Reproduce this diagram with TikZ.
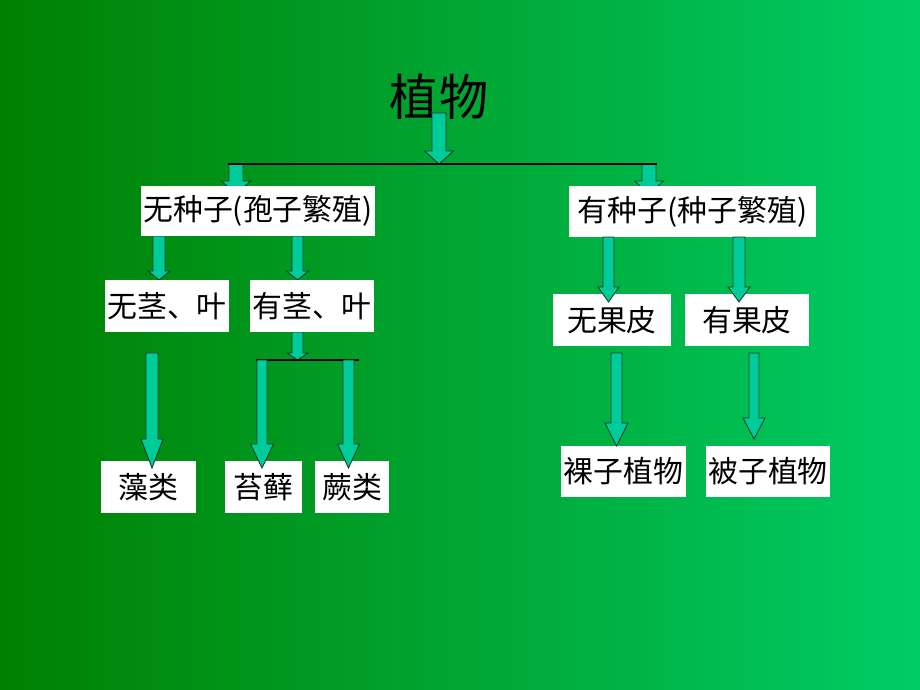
\documentclass[tikz,border=0pt]{standalone}
\usepackage{fontspec}
\setmainfont{Noto Sans CJK SC}
\usetikzlibrary{calc}
\definecolor{bgleft}{RGB}{0,128,0}
\definecolor{bgright}{RGB}{0,204,102}
\definecolor{arrowfill}{RGB}{0,204,153}
\definecolor{arrowline}{RGB}{20,60,40}
\tikzset
{
    plantbox/.style  = {rectangle, fill=white, align=center, inner sep=0pt, font=\fontsize{17}{20}\selectfont},
    boxsize/.style 2 args = {minimum width=#1*0.02cm, minimum height=#2*0.02cm},
    titlenode/.style = {inner sep=0pt, font=\fontsize{28}{32}\selectfont},
    blockarrow/.style = {fill=arrowfill, draw=arrowline, line width=0.5pt, line join=miter},
    busline/.style   = {draw=black, line width=0.6pt}
}
% block arrow: x, top, tip, half shaft, half head, head length
\newcommand{\barrow}[6]{%
    \draw[blockarrow] (#1-#4,#2) -- (#1-#4,#3-#6) -- (#1-#5,#3-#6) -- (#1,#3)
        -- (#1+#5,#3-#6) -- (#1+#4,#3-#6) -- (#1+#4,#2) -- cycle;
}
\begin{document}
\begin{tikzpicture}[x=0.02cm, y=-0.02cm]
    \useasboundingbox (0,0) rectangle (920,690);
    \shade[left color=bgleft, right color=bgright] (0,0) rectangle (920,690);

    \node [titlenode] (plant) at (439,97) {植物};

    % arrows that run under the boxes
    \barrow{439}{113}{164}{7}{14.5}{13}
    \barrow{236}{164}{194}{7}{14.5}{13}
    \barrow{649}{164}{194}{7}{14.5}{13}
    \barrow{159}{236}{280}{6}{11}{9}
    \barrow{297.5}{236}{280}{5.5}{11}{9}
    \barrow{297.5}{332}{360}{5.5}{10.5}{7}

    \coordinate (bus1w) at (228,164);
    \coordinate (bus1e) at (657,164);
    \coordinate (bus2w) at (256,360);
    \coordinate (bus2e) at (359,360);
    \draw [busline] (bus1w) -- (bus1e);
    \draw [busline] (bus2w) -- (bus2e);

    \node [plantbox, boxsize={234}{50}] (nosporeseed) at (258,211) {无种子(孢子繁殖)};
    \node [plantbox, boxsize={247}{51}] (withseed) at (692.5,211.5) {有种子(种子繁殖)};
    \node [plantbox, boxsize={124}{52}] (nostem) at (167,306) {无茎、叶};
    \node [plantbox, boxsize={124}{52}] (withstem) at (312,306) {有茎、叶};
    \node [plantbox, boxsize={95}{52}] (algae) at (148.5,487) {藻类};
    \node [plantbox, boxsize={77}{52}] (moss) at (263.5,487) {苔藓};
    \node [plantbox, boxsize={74}{52}] (fern) at (352,487) {蕨类};
    \node [plantbox, boxsize={118}{52}] (nopeel) at (612,320) {无果皮};
    \node [plantbox, boxsize={124}{52}] (withpeel) at (747,320) {有果皮};
    \node [plantbox, boxsize={125}{51}] (gymno) at (623.5,471.5) {裸子植物};
    \node [plantbox, boxsize={124}{51}] (angio) at (768,471.5) {被子植物};

    % arrows drawn over the boxes
    \barrow{152}{353}{468}{6}{11}{29}
    \barrow{262}{360}{468}{5}{11.5}{24}
    \barrow{348.5}{360}{468}{5.5}{11}{24}
    \barrow{608.5}{237}{302}{5.5}{10.5}{15}
    \barrow{739}{237}{302}{6}{11}{15}
    \barrow{616.5}{353}{446}{5.5}{11.5}{23}
    \barrow{754}{353}{439}{5}{11}{21}
\end{tikzpicture}
\end{document}
